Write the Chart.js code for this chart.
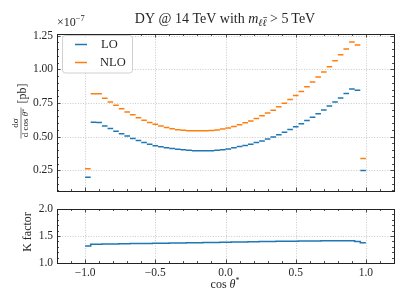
<!DOCTYPE html>
<html><head><meta charset="utf-8">
<script src="https://cdn.jsdelivr.net/npm/chart.js@4/dist/chart.umd.min.js"></script>
<style>
html,body{margin:0;padding:0;background:#fff;width:407px;height:305px;overflow:hidden}
canvas{position:absolute;left:0;top:0}
</style></head><body>
<canvas id="top" width="407" height="305"></canvas>
<canvas id="bot" width="407" height="305"></canvas>
<script>
// ---- data ----
const binEdges = [-1.00,-0.96,-0.92,-0.88,-0.84,-0.80,-0.76,-0.72,-0.68,-0.64,-0.60,-0.56,-0.52,-0.48,-0.44,-0.40,-0.36,-0.32,-0.28,-0.24,-0.20,-0.16,-0.12,-0.08,-0.04,
  0.00,0.04,0.08,0.12,0.16,0.20,0.24,0.28,0.32,0.36,0.40,0.44,0.48,0.52,0.56,0.60,0.64,0.68,0.72,0.76,0.80,0.84,0.88,0.92,0.96,1.00];
const loValues = [0.198,0.607,0.605,0.580,0.561,0.541,0.521,0.504,0.487,0.472,0.457,0.444,0.432,0.424,0.417,0.412,0.407,0.402,0.398,0.396,
  0.395,0.395,0.396,0.398,0.403,0.409,0.417,0.426,0.435,0.444,0.456,0.468,0.482,0.497,0.514,0.533,0.553,0.574,0.596,0.620,
  0.645,0.671,0.698,0.727,0.757,0.788,0.820,0.855,0.845,0.248];
const nloValues = [0.262,0.818,0.818,0.786,0.758,0.734,0.708,0.684,0.662,0.640,0.622,0.606,0.592,0.579,0.568,0.559,0.552,0.547,0.544,0.543,
  0.543,0.543,0.545,0.549,0.556,0.565,0.575,0.588,0.603,0.617,0.635,0.655,0.675,0.697,0.722,0.749,0.776,0.806,0.836,0.871,
  0.906,0.943,0.980,1.020,1.064,1.108,1.152,1.204,1.182,0.338];
const kFactor = [1.315,1.345,1.348,1.350,1.352,1.354,1.356,1.357,1.359,1.360,1.362,1.363,1.365,1.366,1.367,1.369,1.370,1.372,1.373,1.375,
  1.376,1.378,1.379,1.381,1.383,1.385,1.387,1.389,1.391,1.393,1.395,1.397,1.399,1.400,1.402,1.403,1.404,1.405,1.406,1.407,
  1.408,1.409,1.410,1.411,1.412,1.413,1.414,1.414,1.400,1.375];
const seriesLabels = ['LO','NLO'];
const xMajorTicks = [-1.0,-0.5,0.0,0.5,1.0];
const yMajorTicksTop = [0.25,0.50,0.75,1.00,1.25];
const yMajorTicksBottom = [1.0,1.5,2.0];

// ---- styles ----
const FONT = 'Liberation Serif';
const BLUE = '#1f77b4', ORANGE = '#ff7f0e';
const TXT = '#262626';
Chart.defaults.font.family = FONT;

function segs(vals){
  const out = [];
  vals.forEach((v,i)=>{
    out.push({x:binEdges[i], y:v});
    out.push({x:binEdges[i+1], y:v});
    out.push({x:binEdges[i+1], y:null});
  });
  return out;
}

function framePlugin(id, yMajor, yMinorStep, yMinorFrom, yMinorTo){
  return {
    id,
    beforeDatasetsDraw(chart){
      const {ctx, chartArea:a, scales:{x,y}} = chart;
      ctx.save();
      ctx.strokeStyle = '#bdbdbd'; ctx.lineWidth = 0.8; ctx.setLineDash([1,1.6]);
      xMajorTicks.forEach(v=>{
        const px = Math.round(x.getPixelForValue(v))+0.5;
        ctx.beginPath(); ctx.moveTo(px,a.top); ctx.lineTo(px,a.bottom); ctx.stroke();
      });
      yMajor.forEach(v=>{
        const py = Math.round(y.getPixelForValue(v))+0.5;
        if (py <= a.top+1 || py >= a.bottom-1) return;
        ctx.beginPath(); ctx.moveTo(a.left,py); ctx.lineTo(a.right,py); ctx.stroke();
      });
      ctx.restore();
    },
    afterDatasetsDraw(chart){
      const {ctx, chartArea:a, scales:{x,y}} = chart;
      ctx.save();
      ctx.strokeStyle = '#222'; ctx.lineWidth = 0.8;
      const tick = (x1,y1,x2,y2)=>{ctx.beginPath();ctx.moveTo(x1,y1);ctx.lineTo(x2,y2);ctx.stroke();};
      for (let i=-12;i<=12;i++){
        const v=i/10, major = (i%5===0);
        const L = major?3.5:2;
        const px = Math.round(x.getPixelForValue(v))+0.5;
        if (px < a.left || px > a.right) continue;
        tick(px,a.bottom,px,a.bottom-L); tick(px,a.top,px,a.top+L);
      }
      for (let i=yMinorFrom;i<=yMinorTo;i++){
        const v=i*yMinorStep, major=(i%5===0);
        const L = major?3.5:2;
        const py = Math.round(y.getPixelForValue(v))+0.5;
        if (py < a.top || py > a.bottom) continue;
        tick(a.left,py,a.left+L,py); tick(a.right,py,a.right-L,py);
      }
      ctx.lineWidth = 1; ctx.strokeStyle = '#222';
      ctx.strokeRect(Math.round(a.left)+0.5, Math.round(a.top)+0.5, Math.round(a.right-a.left), Math.round(a.bottom-a.top));
      ctx.restore();
    }
  };
}

function drawRich(ctx, parts, x, y, align){
  let total = 0;
  parts.forEach(p=>{ctx.font=p.font; p.w = ctx.measureText(p.t).width; total += p.w + (p.gap||0);});
  let cx = align==='center' ? x - total/2 : x;
  ctx.textBaseline = 'middle'; ctx.textAlign = 'left';
  parts.forEach(p=>{
    ctx.font = p.font; ctx.fillText(p.t, cx, y + (p.dy||0));
    if (p.bar){
      ctx.save(); ctx.lineWidth=0.7; ctx.strokeStyle=ctx.fillStyle;
      const w2 = ctx.measureText(p.t.slice(-1)).width;
      ctx.beginPath(); ctx.moveTo(cx+p.w-w2+0.8, y+(p.dy||0)-5.5); ctx.lineTo(cx+p.w+0.5, y+(p.dy||0)-5.5); ctx.stroke(); ctx.restore();
    }
    cx += p.w + (p.gap||0);
  });
}

const topPlugin = {
  id:'topText',
  afterDraw(chart){
    const ctx = chart.ctx;
    ctx.save();
    ctx.fillStyle = TXT;
    drawRich(ctx, [
      {t:'\u00d710', font:`12px ${FONT}`},
      {t:'\u22127', font:`8.5px ${FONT}`, dy:-4}
    ], 57, 23, 'left');
    // y label
    ctx.save();
    ctx.translate(20.5, 112.5); ctx.rotate(-Math.PI/2);
    const uF = -10.5;
    ctx.textAlign='center'; ctx.textBaseline='middle';
    ctx.font = `9px ${FONT}`;
    ctx.fillText('d\u03c3', uF, -5);
    drawRich(ctx, [
      {t:'d cos ', font:`9px ${FONT}`},
      {t:'\u03b8', font:`italic 9px ${FONT}`},
      {t:'*', font:`6.5px ${FONT}`, dy:-2}
    ], uF, 5.5, 'center');
    ctx.strokeStyle = TXT; ctx.lineWidth = 0.6;
    ctx.beginPath(); ctx.moveTo(uF-15.5, 0.5); ctx.lineTo(uF+15.5, 0.5); ctx.stroke();
    ctx.font = `12px ${FONT}`; ctx.textAlign='left';
    ctx.fillText('[pb]', 9, 2.5);
    ctx.restore();
    // legend
    const lx=62.5, ly=35.5, lw=70, lh=37.5;
    ctx.beginPath(); ctx.roundRect(lx,ly,lw,lh,3);
    ctx.fillStyle='rgba(255,255,255,0.85)'; ctx.fill();
    ctx.strokeStyle='#d0d0d0'; ctx.lineWidth=1; ctx.stroke();
    [[BLUE,44.5,seriesLabels[0],101],[ORANGE,62.5,seriesLabels[1],100]].forEach(([c,yy,lab,tx])=>{
      ctx.strokeStyle=c; ctx.lineWidth=1.5;
      ctx.beginPath(); ctx.moveTo(75,yy); ctx.lineTo(87,yy); ctx.stroke();
      ctx.fillStyle=TXT; ctx.font=`12.5px ${FONT}`; ctx.textAlign='left'; ctx.textBaseline='middle';
      ctx.fillText(lab, tx, yy+0.5);
    });
    ctx.restore();
  }
};

const botPlugin = {
  id:'botText',
  afterDraw(chart){
    const ctx = chart.ctx;
    ctx.save();
    ctx.fillStyle = TXT;
    drawRich(ctx, [
      {t:'DY @ 14 TeV with ', font:`14px ${FONT}`},
      {t:'m', font:`italic 14px ${FONT}`},
      {t:'\u2113\u2113', font:`italic 10px ${FONT}`, dy:3.5, bar:true, gap:3.5},
      {t:'> 5\u2009TeV', font:`14px ${FONT}`}
    ], 225, 19.5, 'center');
    drawRich(ctx, [
      {t:'cos ', font:`12px ${FONT}`},
      {t:'\u03b8', font:`italic 12px ${FONT}`},
      {t:'*', font:`8px ${FONT}`, dy:-4}
    ], 225, 284.5, 'center');
    ctx.save(); ctx.translate(28, 232); ctx.rotate(-Math.PI/2);
    ctx.font = `12px ${FONT}`; ctx.textAlign='center'; ctx.textBaseline='middle';
    ctx.fillText('K factor', 0, 0);
    ctx.restore();
    ctx.restore();
  }
};

const lineDs = (label, vals, color)=>({label, data:segs(vals), borderColor:color, backgroundColor:color,
  borderWidth:1.5, pointRadius:0, spanGaps:false, tension:0, borderCapStyle:'butt', fill:false});

const noGrid = {display:false, drawTicks:false, tickLength:0};

new Chart(document.getElementById('top'), {
  type:'line',
  data:{datasets:[lineDs(seriesLabels[0], loValues, BLUE), lineDs(seriesLabels[1], nloValues, ORANGE)]},
  options:{
    responsive:false, animation:false, devicePixelRatio:1,
    layout:{padding:{left:0, top:34, right:13, bottom:114}},
    plugins:{legend:{display:false}, tooltip:{enabled:false}, title:{display:false}},
    scales:{
      x:{type:'linear', min:-1.2, max:1.2, grid:noGrid, border:{display:false},
         ticks:{display:false}, afterFit(s){s.height=0;}},
      y:{type:'linear', min:0.096, max:1.263, grid:noGrid, border:{display:false},
         afterBuildTicks(s){s.ticks = yMajorTicksTop.map(v=>({value:v}));},
         ticks:{callback:v=>Number(v).toFixed(2), font:{size:11.5, family:FONT}, color:TXT, padding:4},
         afterFit(s){s.width=57;}}
    }
  },
  plugins:[framePlugin('frameTop', yMajorTicksTop, 0.05, 2, 25), topPlugin]
});

new Chart(document.getElementById('bot'), {
  type:'line',
  data:{datasets:[{label:'K', data: binEdges.map((e,i)=>({x:e, y:kFactor[Math.min(i, kFactor.length-1)]})),
     borderColor:BLUE, borderWidth:1.5, pointRadius:0, stepped:'before', fill:false}]},
  options:{
    responsive:false, animation:false, devicePixelRatio:1,
    layout:{padding:{left:0, top:209, right:13, bottom:0}},
    plugins:{legend:{display:false}, tooltip:{enabled:false}},
    scales:{
      x:{type:'linear', min:-1.2, max:1.2, grid:noGrid, border:{display:false},
         afterBuildTicks(s){s.ticks = xMajorTicks.map(v=>({value:v}));},
         ticks:{callback:v=>(v<0?'\u2212':'')+Math.abs(v).toFixed(1), font:{size:11.5, family:FONT}, color:TXT, padding:3, maxRotation:0},
         afterFit(s){s.height=42;}},
      y:{type:'linear', min:1.0, max:2.0, grid:noGrid, border:{display:false},
         afterBuildTicks(s){s.ticks = yMajorTicksBottom.map(v=>({value:v}));},
         ticks:{callback:v=>Number(v).toFixed(1), font:{size:11.5, family:FONT}, color:TXT, padding:4},
         afterFit(s){s.width=57;}}
    }
  },
  plugins:[framePlugin('frameBot', yMajorTicksBottom, 0.1, 10, 20), botPlugin]
});
</script>
</body></html>
